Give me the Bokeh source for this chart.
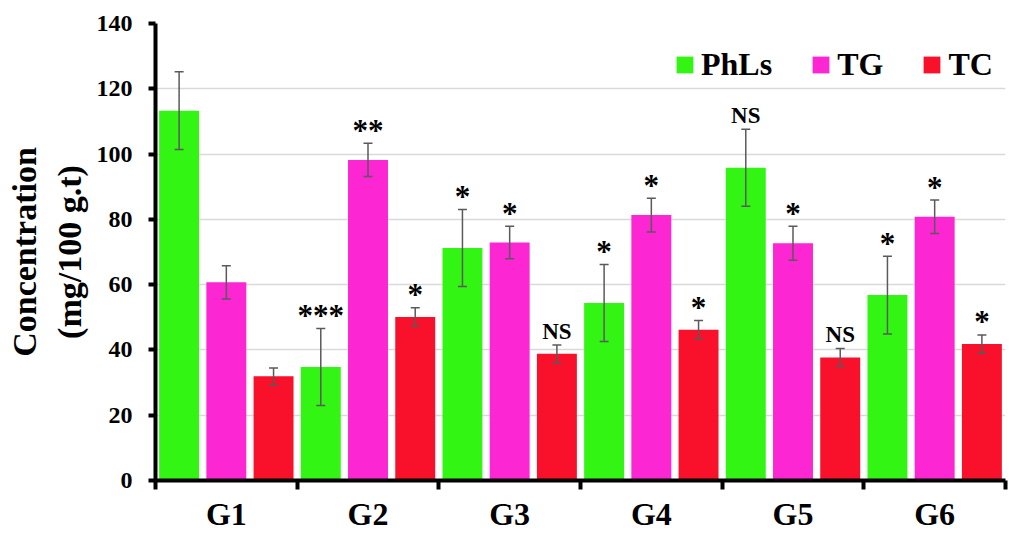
from bokeh.plotting import figure
from bokeh.models import (Range1d, FixedTicker, Whisker, TeeHead, ColumnDataSource,
                          Legend, LegendItem)
from bokeh.embed import file_html
from bokeh.resources import INLINE

groups = ["G1", "G2", "G3", "G4", "G5", "G6"]
series_names = ["PhLs", "TG", "TC"]
phls = [113.3, 34.8, 71.2, 54.4, 95.8, 56.8]
phls_err = [11.9, 11.8, 11.8, 11.8, 11.8, 11.9]
tg = [60.7, 98.2, 72.9, 81.3, 72.7, 80.8]
tg_err = [5.1, 5.1, 5.0, 5.2, 5.2, 5.1]
tc = [31.9, 50.1, 38.8, 46.2, 37.7, 41.8]
tc_err = [2.6, 2.8, 2.7, 2.8, 2.7, 2.8]
phls_sig = ["", "***", "*", "*", "NS", "*"]
tg_sig = ["", "**", "*", "*", "*", "*"]
tc_sig = ["", "*", "NS", "*", "NS", "*"]
y_ticks = [0, 20, 40, 60, 80, 100, 120, 140]

colors = ["#33f514", "#fd26d3", "#f9102a"]
FONT = "Liberation Serif"

p = figure(width=1009, height=534, output_backend="svg", toolbar_location=None,
           x_range=Range1d(0, 6), y_range=Range1d(0, 140),
           min_border_left=155, min_border_right=4, min_border_top=23, min_border_bottom=50)
p.outline_line_color = None
p.xgrid.visible = False
p.ygrid.grid_line_color = "#d9d9d9"
p.ygrid.grid_line_width = 1.5
p.ygrid.ticker = FixedTicker(ticks=y_ticks)

# y axis
p.yaxis.ticker = FixedTicker(ticks=y_ticks)
p.yaxis.axis_line_width = 4
p.yaxis.axis_line_color = "black"
p.yaxis.major_tick_line_width = 4
p.yaxis.major_tick_out = 7
p.yaxis.major_tick_in = 0
p.yaxis.minor_tick_line_color = None
p.yaxis.major_label_text_font = FONT
p.yaxis.major_label_text_font_style = "bold"
p.yaxis.major_label_text_font_size = "24px"
p.yaxis.major_label_text_color = "black"
p.yaxis.major_label_standoff = 16
p.yaxis.axis_label = "Concentration\n(mg/100 g.t)"
p.yaxis.axis_label_text_font = FONT
p.yaxis.axis_label_text_font_style = "bold"
p.yaxis.axis_label_text_font_size = "34px"
p.yaxis.axis_label_text_color = "black"
p.yaxis.axis_label_standoff = 6

# x axis: labels at centres, ticks at boundaries
centers = [i + 0.5 for i in range(len(groups))]
p.xaxis.ticker = FixedTicker(ticks=centers, minor_ticks=list(range(len(groups) + 1)))
p.xaxis.major_label_overrides = {c: g for c, g in zip(centers, groups)}
p.xaxis.axis_line_width = 4
p.xaxis.axis_line_color = "black"
p.xaxis.major_tick_out = 0
p.xaxis.major_tick_in = 0
p.xaxis.minor_tick_out = 9
p.xaxis.minor_tick_in = 0
p.xaxis.minor_tick_line_width = 4
p.xaxis.minor_tick_line_color = "black"
p.xaxis.major_label_text_font = FONT
p.xaxis.major_label_text_font_style = "bold"
p.xaxis.major_label_text_font_size = "32px"
p.xaxis.major_label_text_color = "black"
p.xaxis.major_label_standoff = 6

vals = [phls, tg, tc]
errs = [phls_err, tg_err, tc_err]
sigs = [phls_sig, tg_sig, tc_sig]
legend_items = []
for s, name in enumerate(series_names):
    xs = [c + (s - 1) / 3 for c in centers]
    src = ColumnDataSource(dict(x=xs, top=vals[s],
                                upper=[v + e for v, e in zip(vals[s], errs[s])],
                                lower=[v - e for v, e in zip(vals[s], errs[s])]))
    r = p.vbar(x="x", top="top", width=0.282, bottom=0, source=src,
               fill_color=colors[s], line_color=None)
    legend_items.append(LegendItem(label=name, renderers=[r]))
    w = Whisker(base="x", upper="upper", lower="lower", dimension="height", source=src,
                line_color="#5a5a5a", line_width=1.5, level="overlay",
                upper_head=TeeHead(size=9, line_color="#5a5a5a", line_width=1.5),
                lower_head=TeeHead(size=9, line_color="#5a5a5a", line_width=1.5))
    p.add_layout(w)
    # significance labels
    star = dict(x=[], y=[], t=[])
    ns = dict(x=[], y=[], t=[])
    for i, lab in enumerate(sigs[s]):
        if not lab:
            continue
        d = ns if lab == "NS" else star
        d["x"].append(xs[i]); d["y"].append(vals[s][i] + errs[s][i]); d["t"].append(lab)
    p.text(x="x", y="y", text="t", source=ColumnDataSource(star), text_align="center",
           text_baseline="alphabetic", y_offset=-13, text_font_size="31px",
           text_font=FONT, text_font_style="bold", text_color="black")
    p.text(x="x", y="y", text="t", source=ColumnDataSource(ns), text_align="center",
           text_baseline="alphabetic", y_offset=-14, text_font_size="23px",
           text_font=FONT, text_font_style="bold", text_color="black")

legend = Legend(items=legend_items, orientation="horizontal", location=(519, 397),
                glyph_width=21, glyph_height=21, label_standoff=6, spacing=38,
                padding=0, margin=0, border_line_color=None, background_fill_alpha=0,
                label_text_font=FONT, label_text_font_style="bold",
                label_text_font_size="32px", label_text_color="black")
p.add_layout(legend)

open("out.html", "w").write(file_html(p, INLINE))
